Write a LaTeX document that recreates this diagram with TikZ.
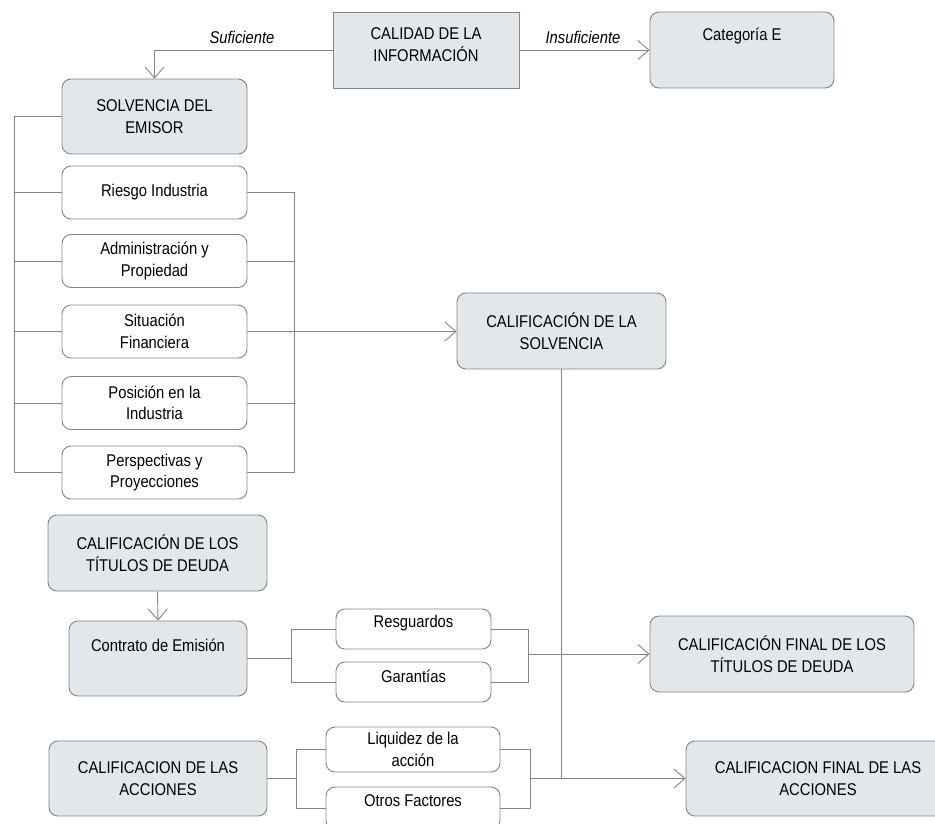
\documentclass[tikz,border=0pt]{standalone}
\usepackage{fontspec}
\setmainfont{Liberation Sans}[FakeStretch=0.87]
\usetikzlibrary{arrows.meta}
\definecolor{boxfill}{HTML}{E2E7EC}
\definecolor{boxline}{HTML}{858585}
\definecolor{lnk}{HTML}{858585}
\begin{document}
\begin{tikzpicture}[x=1pt,y=-1pt,
  base/.style={draw=boxline, line width=0.9pt, inner sep=0pt, align=center,
    font=\fontsize{17}{21.5}\selectfont},
  sqbox/.style={base, fill=boxfill},
  gbox/.style={base, fill=boxfill, rounded corners=9pt},
  wbox/.style={base, fill=white, rounded corners=9pt},
  txt/.style={inner sep=0pt, align=center, font=\fontsize{17}{21.5}\selectfont},
  lbl/.style={inner sep=0pt, font=\fontsize{17}{21.5}\selectfont\itshape},
  conn/.style={draw=lnk, line width=0.9pt},
  arr/.style={conn, -{Straight Barb[length=11pt,width=19pt]}}
]
\useasboundingbox (0,0) rectangle (935,823);

% top row
\node[sqbox, minimum width=186pt, minimum height=76pt] (cal) at (426,50) {};
\node[txt] (calT) at (426,44.5) {CALIDAD DE LA\\INFORMACIÓN};
\node[gbox, minimum width=184pt, minimum height=76pt] (cat) at (742,50) {};
\node[txt] (catT) at (742,36) {Categoría E};
\node[lbl] (suf) at (242,37) {Suficiente};
\node[lbl] (insuf) at (583,37) {Insuficiente};

% solvencia del emisor
\node[gbox, minimum width=185pt, minimum height=75pt] (solv) at (154.5,116.5) {SOLVENCIA DEL\\EMISOR};
\node[wbox, minimum width=185pt, minimum height=53pt] (ri) at (154.5,192.5) {Riesgo Industria};
\node[wbox, minimum width=185pt, minimum height=53pt] (adm) at (154.5,261) {Administración y\\Propiedad};
\node[wbox, minimum width=185pt, minimum height=53pt] (sit) at (154.5,331.5) {Situación\\Financiera};
\node[wbox, minimum width=185pt, minimum height=53pt] (pos) at (154.5,403) {Posición en la\\Industria};
\node[wbox, minimum width=185pt, minimum height=53pt] (persp) at (154.5,472.5) {Perspectivas y\\Proyecciones};

\node[gbox, minimum width=209pt, minimum height=76pt] (calsol) at (561.5,331) {CALIFICACIÓN DE LA\\SOLVENCIA};

% titulos de deuda
\node[gbox, minimum width=219pt, minimum height=76pt] (tit) at (157.5,553) {CALIFICACIÓN DE LOS\\TÍTULOS DE DEUDA};
\node[gbox, minimum width=178pt, minimum height=75pt] (cont) at (158,658.5) {};
\node[txt] (contT) at (158,645) {Contrato de Emisión};
\node[wbox, minimum width=155pt, minimum height=40pt] (res) at (413.5,629) {};
\node[txt] (resT) at (413.5,623) {Resguardos};
\node[wbox, minimum width=155pt, minimum height=40pt] (gar) at (413.5,682) {};
\node[txt] (garT) at (413.5,676) {Garantías};
\node[gbox, minimum width=264pt, minimum height=76pt] (fintit) at (782,654) {CALIFICACIÓN FINAL DE LOS\\TÍTULOS DE DEUDA};

% acciones
\node[gbox, minimum width=218pt, minimum height=75pt] (acc) at (158,778.5) {CALIFICACION DE LAS\\ACCIONES};
\node[wbox, minimum width=174pt, minimum height=45pt] (liq) at (413,749.5) {Liquidez de la\\acción};
\node[wbox, minimum width=174pt, minimum height=43pt] (otr) at (413,808.5) {};
\node[txt] (otrT) at (413,801) {Otros Factores};
\node[gbox, minimum width=264pt, minimum height=75pt] (finacc) at (818,778.5) {CALIFICACION FINAL DE LAS\\ACCIONES};

% bracket coordinates
\coordinate (lb) at (14,0);
\coordinate (rb) at (294,0);
\coordinate (b1) at (291,0);
\coordinate (b2) at (528,0);
\coordinate (b3) at (296,0);
\coordinate (b4) at (530,0);

% connectors top
\draw[arr] (cal.west) -| (solv.north);
\draw[arr] (cal.east) -- (cat.west);

% left bracket
\draw[conn] (solv.west) -- (solv.west -| lb) -- (persp.west -| lb) -- (persp.west);
\foreach \n in {ri,adm,sit,pos} \draw[conn] (\n.west) -- (\n.west -| lb);
% right bracket
\draw[conn] (ri.east) -- (ri.east -| rb) -- (persp.east -| rb) -- (persp.east);
\foreach \n in {adm,pos} \draw[conn] (\n.east) -- (\n.east -| rb);
\draw[arr] (sit.east) -- (sit.east -| calsol.west);

% titulos
\draw[arr] (tit.south) -- (cont.north);
\draw[conn] (cont.east) -- (cont.east -| b1);
\draw[conn] (res.west) -- (res.west -| b1) -- (gar.west -| b1) -- (gar.west);
\draw[conn] (res.east) -- (res.east -| b2) -- (gar.east -| b2) -- (gar.east);
\draw[arr] (b2 |- fintit.west) -- (fintit.west);

% acciones
\draw[conn] (acc.east) -- (acc.east -| b3);
\draw[conn] (liq.west) -- (liq.west -| b3) -- (otr.west -| b3) -- (otr.west);
\draw[conn] (liq.east) -- (liq.east -| b4) -- (otr.east -| b4) -- (otr.east);
\draw[arr] (b4 |- finacc.west) -- (finacc.west);

% solvencia down
\draw[conn] (calsol.south) -- (calsol.south |- finacc.west);
\end{tikzpicture}
\end{document}
